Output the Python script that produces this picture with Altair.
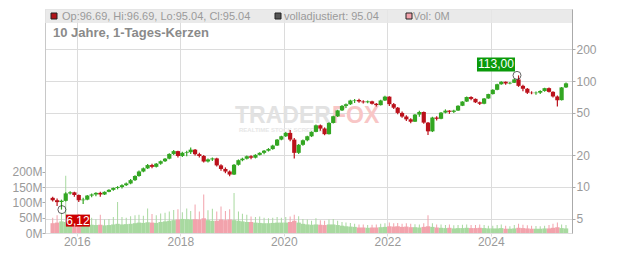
import altair as alt
import pandas as pd

FONT = "Liberation Sans"

# ---------------- data (monthly candles, Jul 2015 .. Jun 2025) ----------------
first_month = "2015-07-01"

opens = [
    7.9, 7.5, 7.2, 7.4, 8.7, 8.9,
    8.4, 7.5, 7.6, 8.3, 8.5, 8.8, 8.5, 9.0, 9.4, 9.8, 10.0, 10.4,
    10.8, 11.6, 12.7, 14.0, 15.0, 16.1, 15.5, 16.6, 17.5, 18.5, 20.5, 21.8,
    19.6, 21.0, 21.3, 22.5, 20.4, 19.6, 17.4, 18.2, 18.6, 16.0, 14.8, 14.0,
    13.1, 16.2, 17.9, 18.5, 19.5, 18.9, 20.1, 21.0, 22.0, 22.8, 24.6, 28.0,
    30.1, 32.4, 28.0, 21.0, 25.0, 27.6, 30.1, 33.1, 38.2, 35.6, 31.5, 40.2,
    46.5, 52.8, 58.2, 60.3, 65.4, 66.2, 64.1, 63.0, 64.3, 61.0, 59.2, 65.5,
    71.2, 60.5, 56.0, 50.0, 46.2, 43.5, 41.3, 48.2, 51.0, 40.5, 33.5, 45.2,
    44.0, 50.3, 52.5, 51.2, 52.6, 58.4, 64.0, 70.6, 67.8, 63.0, 61.0, 68.4,
    75.3, 82.6, 93.2, 98.4, 94.8, 96.2, 103.5, 90.0, 84.5, 77.5, 76.8, 77.6,
    80.5, 85.6, 79.0, 71.5, 66.0, 87.0,
]
highs = [
    8.1, 7.8, 7.6, 8.9, 9.1, 9.0,
    8.5, 7.9, 8.4, 8.7, 8.9, 9.0, 9.1, 9.5, 9.9, 10.2, 10.6, 11.0,
    11.9, 12.9, 14.3, 15.3, 16.5, 16.6, 16.8, 17.8, 18.8, 20.8, 22.3, 22.0,
    21.5, 22.0, 23.6, 22.8, 21.0, 20.0, 18.6, 19.0, 18.9, 16.4, 15.3, 14.3,
    16.5, 18.2, 18.9, 19.8, 19.9, 20.4, 21.3, 22.3, 23.3, 25.0, 28.4, 30.5,
    33.0, 34.5, 29.0, 25.5, 28.0, 30.5, 33.5, 38.8, 38.8, 36.5, 40.8, 47.0,
    53.5, 59.5, 61.5, 66.5, 67.5, 68.0, 66.0, 65.5, 65.0, 62.0, 66.5, 72.5,
    72.0, 62.0, 57.0, 51.5, 47.5, 44.5, 48.8, 52.5, 51.5, 41.0, 46.0, 46.5,
    51.0, 54.0, 53.0, 53.5, 59.0, 64.5, 71.5, 72.0, 68.5, 64.0, 69.0, 76.0,
    83.5, 94.0, 99.5, 99.0, 98.0, 105.0, 113.0, 92.0, 86.0, 80.0, 79.5, 82.0,
    86.5, 87.0, 80.0, 73.0, 88.0, 97.0,
]
lows = [
    7.3, 6.6, 6.12, 7.3, 8.5, 8.1,
    7.2, 6.9, 7.5, 8.0, 8.2, 8.1, 8.4, 8.9, 9.2, 9.5, 9.7, 10.2,
    10.6, 11.4, 12.5, 13.8, 14.8, 15.0, 15.3, 16.2, 17.2, 18.3, 20.0, 19.0,
    19.2, 19.5, 20.5, 19.8, 19.0, 17.0, 17.0, 17.6, 15.6, 14.2, 13.5, 12.6,
    13.0, 15.9, 17.5, 18.2, 18.3, 18.6, 19.8, 20.4, 21.6, 22.4, 24.3, 27.6,
    29.6, 27.0, 18.6, 20.5, 24.5, 27.0, 29.6, 32.8, 34.0, 30.8, 31.2, 39.8,
    45.8, 52.0, 55.5, 59.5, 62.0, 62.5, 61.5, 61.8, 60.0, 57.5, 58.8, 64.8,
    58.0, 54.5, 48.5, 45.0, 42.0, 40.0, 41.0, 46.0, 39.5, 31.0, 33.0, 42.5,
    43.5, 49.5, 49.0, 50.0, 52.0, 58.0, 63.5, 66.0, 62.0, 59.5, 60.5, 68.0,
    74.5, 82.0, 92.0, 92.0, 93.0, 95.5, 88.0, 80.0, 75.5, 75.0, 74.0, 75.5,
    79.0, 78.0, 70.0, 57.5, 65.5, 86.0,
]
closes = [
    7.5, 7.2, 7.4, 8.7, 8.9, 8.4,
    7.5, 7.6, 8.3, 8.5, 8.8, 8.5, 9.0, 9.4, 9.8, 10.0, 10.4, 10.8,
    11.6, 12.7, 14.0, 15.0, 16.1, 15.5, 16.6, 17.5, 18.5, 20.5, 21.8, 19.6,
    21.0, 21.3, 22.5, 20.4, 19.6, 17.4, 18.2, 18.6, 16.0, 14.8, 14.0, 13.1,
    16.2, 17.9, 18.5, 19.5, 18.9, 20.1, 21.0, 22.0, 22.8, 24.6, 28.0, 30.1,
    32.4, 28.0, 21.0, 25.0, 27.6, 30.1, 33.1, 38.2, 35.6, 31.5, 40.2, 46.5,
    52.8, 58.2, 60.3, 65.4, 66.2, 64.1, 63.0, 64.3, 61.0, 59.2, 65.5, 71.2,
    60.5, 56.0, 50.0, 46.2, 43.5, 41.3, 48.2, 51.0, 40.5, 33.5, 45.2, 44.0,
    50.3, 52.5, 51.2, 52.6, 58.4, 64.0, 70.6, 67.8, 63.0, 61.0, 68.4, 75.3,
    82.6, 93.2, 98.4, 94.8, 96.2, 103.5, 90.0, 84.5, 77.5, 76.8, 77.6, 80.5,
    85.6, 79.0, 71.5, 66.0, 87.0, 95.04,
]
# volume in millions: typical daily level and largest day of the month
vol_typ = [
    32, 34, 38, 36, 30, 30,
    34, 30, 28, 27, 26, 27, 25, 26, 28, 30, 28, 29,
    30, 32, 34, 33, 35, 34, 33, 36, 38, 40, 42, 44,
    46, 45, 44, 45, 44, 48, 42, 40, 40, 44, 42, 44,
    42, 40, 38, 36, 36, 34, 33, 32, 32, 33, 34, 34,
    34, 36, 40, 34, 30, 28, 27, 28, 27, 26, 28, 28,
    26, 24, 22, 21, 20, 18, 18, 17, 18, 18, 19, 20,
    22, 21, 22, 20, 21, 19, 19, 18, 20, 22, 20, 18,
    17, 16, 17, 15, 16, 16, 17, 16, 16, 17, 16, 15,
    15, 15, 16, 14, 14, 15, 17, 16, 15, 14, 14, 14,
    15, 15, 17, 19, 16, 15,
]
vol_max = [
    50, 58, 66, 187, 48, 52,
    62, 55, 48, 50, 45, 60, 44, 46, 52, 101, 52, 50,
    55, 58, 60, 56, 80, 62, 58, 64, 66, 70, 75, 78,
    68, 80, 72, 93, 70, 126, 74, 79, 70, 87, 72, 78,
    131, 70, 63, 60, 54, 52, 54, 50, 48, 50, 52, 50,
    52, 54, 60, 55, 46, 44, 40, 48, 42, 40, 44, 46,
    40, 36, 34, 33, 30, 28, 28, 26, 27, 28, 30, 32,
    34, 32, 33, 30, 32, 30, 29, 28, 32, 58, 32, 28,
    28, 26, 28, 25, 26, 27, 28, 26, 26, 28, 26, 24,
    24, 26, 28, 24, 22, 26, 30, 27, 25, 24, 23, 22,
    24, 26, 30, 34, 28, 26,
]

price_ticks = [5, 10, 20, 50, 100, 200]
vol_ticks = [0, 50, 100, 150, 200]
year_ticks = [2016, 2018, 2020, 2022, 2024]

ann_dates = ["2024-07-04", "2015-09-18"]
ann_values = [113.0, 6.12]
ann_labels = ["113,00", "6,12"]

legend_texts = ["Op:96.69, Hi:96.69, Lo:95.04, Cl:95.04", "volladjustiert: 95.04", "Vol: 0M"]
title_text = "10 Jahre, 1-Tages-Kerzen"

# ---------------- frames ----------------
df = pd.DataFrame({
    "date": pd.date_range(first_month, periods=len(closes), freq="MS") + pd.Timedelta(days=14),
    "open": opens, "high": highs, "low": lows, "close": closes,
    "vol": vol_typ, "volmax": vol_max,
})
ann = pd.DataFrame({"date": pd.to_datetime(ann_dates), "value": ann_values, "label": ann_labels})
deco = pd.DataFrame({"k": [0]})

W, H = 527, 224
GREEN, RED = "#33a622", "#bb111b"
VGREEN, VRED = "#a8d9a0", "#f2a3ac"

xscale = alt.Scale(domain=[alt.DateTime(year=2015, month=6, date=26),
                           alt.DateTime(year=2025, month=6, date=22)])
xaxis = alt.Axis(values=[alt.DateTime(year=y, month=1, date=1) for y in year_ticks],
                 format="%Y", title=None, grid=True, gridColor="#dcdcdc",
                 domain=False, tickColor="#dcdcdc", tickSize=3, labelPadding=0,
                 labelColor="#9a9a9a", labelFontSize=12, labelFont=FONT)
xenc = alt.X("date:T", scale=xscale, axis=xaxis)

price_scale = alt.Scale(type="log", domain=[3.681, 477.9])
price_axis = alt.Axis(orient="right", values=price_ticks, format="d", title=None,
                      grid=True, gridColor="#dcdcdc", domainColor="#aaaaaa",
                      tickColor="#aaaaaa", tickSize=3, labelPadding=1,
                      labelColor="#9a9a9a", labelFontSize=12, labelFont=FONT)
vol_scale = alt.Scale(domain=[0, 732])
vol_axis = alt.Axis(orient="left", values=vol_ticks, labelExpr="datum.value + 'M'",
                    title=None, grid=False, domainColor="#c8c8c8", tickColor="#aaaaaa",
                    tickSize=3, labelPadding=0, labelColor="#9a9a9a",
                    labelFontSize=12, labelFont=FONT)

up_cond = alt.datum.close >= alt.datum.open
base = alt.Chart(df)

# volume
vmax = base.mark_bar(width=1).encode(
    x=xenc, y=alt.Y("volmax:Q", scale=vol_scale, axis=vol_axis),
    color=alt.condition(up_cond, alt.value(VGREEN), alt.value(VRED)))
vtyp = base.mark_bar(width=4.4).encode(
    x=xenc, y=alt.Y("vol:Q", scale=vol_scale, axis=vol_axis),
    color=alt.condition(up_cond, alt.value(VGREEN), alt.value(VRED)))
vol_layer = alt.layer(vtyp, vmax)

# candles
wick = base.mark_rule(strokeWidth=1.2).encode(
    x=xenc, y=alt.Y("low:Q", scale=price_scale, axis=price_axis), y2="high:Q",
    color=alt.condition(up_cond, alt.value(GREEN), alt.value(RED)))
body = base.mark_bar(width=4.2).encode(
    x=xenc, y=alt.Y("open:Q", scale=price_scale, axis=price_axis), y2="close:Q",
    color=alt.condition(up_cond, alt.value(GREEN), alt.value(RED)))

a_max = alt.Chart(ann.iloc[[0]])
a_min = alt.Chart(ann.iloc[[1]])
ysc = alt.Y("value:Q", scale=price_scale, axis=price_axis)
circ = alt.Chart(ann).mark_point(shape="circle", size=64, filled=False,
                                 stroke="#222222", strokeWidth=1).encode(x=xenc, y=ysc)
box_max = a_max.mark_rect(color="#0a9a0a", xOffset=-40, x2Offset=-2,
                          yOffset=-18, y2Offset=-4).encode(x=xenc, x2="date:T", y=ysc, y2="value:Q")
txt_max = a_max.mark_text(color="white", font=FONT, fontSize=12, dx=-21, dy=-11).encode(
    x=xenc, y=ysc, text="label:N")
box_min = a_min.mark_rect(color="#cc0000", xOffset=4, x2Offset=28,
                          yOffset=5, y2Offset=17).encode(x=xenc, x2="date:T", y=ysc, y2="value:Q")
txt_min = a_min.mark_text(color="white", font=FONT, fontSize=12, dx=16, dy=11).encode(
    x=xenc, y=ysc, text="label:N")
price_layer = alt.layer(wick, body, circ, box_max, txt_max, box_min, txt_min)

# decorations
d = alt.Chart(deco)
strip = d.mark_rect(fill="#e6e6e6", opacity=0.85).encode(
    x=alt.value(0), x2=alt.value(W), y=alt.value(0), y2=alt.value(14))
wm1 = d.mark_text(text="TRADER", font=FONT, fontSize=23, fontWeight="bold",
                  color="#e2e2e2", align="left", baseline="middle").encode(
    x=alt.value(190), y=alt.value(107))
wm2 = d.mark_text(text="FOX", font=FONT, fontSize=23, fontWeight="bold",
                  color="#f8c6c6", align="left", baseline="middle").encode(
    x=alt.value(287), y=alt.value(107))
wm3 = d.mark_text(text="REALTIME STOCK SCREENER", font=FONT, fontSize=6, fontWeight="bold",
                  color="#e6e6e6", align="left", baseline="middle").encode(
    x=alt.value(194), y=alt.value(121))

sq_cols = ["#b0141a", "#555555", "#f2a3ac"]
sq_x = [6, 230, 361]
txt_x = [17, 239, 368]
legend_layers = []
for c, sx, tx, t in zip(sq_cols, sq_x, txt_x, legend_texts):
    legend_layers.append(d.mark_rect(fill=c, stroke="#222222", strokeWidth=1).encode(
        x=alt.value(sx), x2=alt.value(sx + 6), y=alt.value(4), y2=alt.value(10)))
    legend_layers.append(d.mark_text(text=t, font=FONT, fontSize=11, color="#9a9a9a",
                                     align="left", baseline="middle").encode(
        x=alt.value(tx), y=alt.value(7.5)))
title = d.mark_text(text=title_text, font=FONT, fontSize=13, fontWeight="bold",
                    color="#8a8a8a", align="left", baseline="middle").encode(
    x=alt.value(8), y=alt.value(24))

chart = alt.layer(
    strip, wm1, wm2, wm3, vol_layer, price_layer, *legend_layers, title
).resolve_scale(y="independent").properties(
    width=W, height=H,
    padding={"left": 45, "top": 9, "right": 60, "bottom": 20},
    autosize=alt.AutoSizeParams(type="none"),
).configure_view(stroke="#c8c8c8", strokeWidth=1).configure(background="white")

chart.save("out.html", embed_options={"renderer": "svg", "actions": False})
